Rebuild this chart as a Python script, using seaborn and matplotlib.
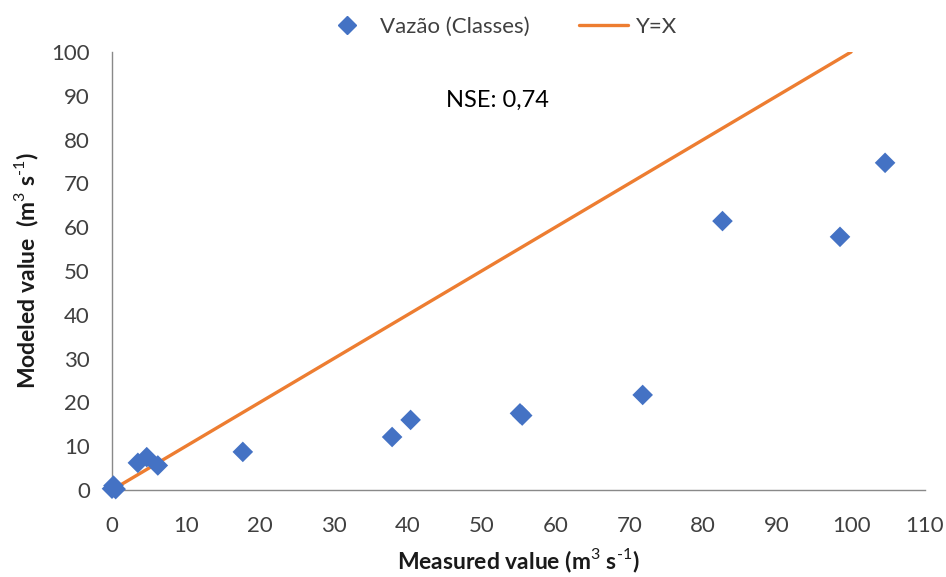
import matplotlib
matplotlib.use("Agg")
import matplotlib.pyplot as plt
import seaborn as sns
import pandas as pd
from matplotlib.lines import Line2D

# Data
measured = [0.0, 0.2, 0.5, 3.5, 4.7, 6.2, 17.7, 37.9, 40.4, 55.2, 55.5, 71.8, 82.6, 98.5, 104.6]
modeled = [0.3, 1.0, 0.2, 6.2, 7.5, 5.6, 8.7, 12.1, 16.0, 17.5, 17.0, 21.7, 61.4, 57.8, 74.7]
line_x = [0, 100]
line_y = [0, 100]
x_ticks = list(range(0, 111, 10))
y_ticks = list(range(0, 101, 10))
nse_text = "NSE: 0,74"
series_names = ["Vazão (Classes)", "Y=X"]

BLUE = "#4472C4"
ORANGE = "#ED7D31"
AXIS_GRAY = "#898989"
TEXT = "#404040"
LABEL = "#1a1a1a"

sns.set_style("white")
plt.rcParams['font.family'] = ['Lato', 'DejaVu Sans']
plt.rcParams['mathtext.fontset'] = 'custom'
plt.rcParams['mathtext.rm'] = 'Lato'
plt.rcParams['mathtext.bf'] = 'Lato:bold'

fig = plt.figure(figsize=(9.46, 5.77), dpi=100)
ax = fig.add_axes([112/946, 1-490/577, (925-112)/946, (490-52)/577])

df_pts = pd.DataFrame({"measured": measured, "modeled": modeled})
df_line = pd.DataFrame({"x": line_x, "y": line_y})

sns.lineplot(data=df_line, x="x", y="y", color=ORANGE, linewidth=2.4, ax=ax, zorder=3)
sns.scatterplot(data=df_pts, x="measured", y="modeled", marker="D", s=110,
                color=BLUE, edgecolor="none", ax=ax, zorder=4, clip_on=False)

ax.set_xlim(0, 110)
ax.set_ylim(0, 100)
ax.set_xticks(x_ticks)
ax.set_yticks(y_ticks)
ax.tick_params(axis='both', length=0, labelsize=16, labelcolor=TEXT)
ax.tick_params(axis='x', pad=18.5)
ax.tick_params(axis='y', pad=16)

for s in ["top", "right"]:
    ax.spines[s].set_visible(False)
for s in ["left", "bottom"]:
    ax.spines[s].set_color(AXIS_GRAY)
    ax.spines[s].set_linewidth(1.0)

ax.set_xlabel(r"Measured value (m$^3$ s$^{\text{-}1}$)", fontsize=16.5, fontweight='bold',
              color=LABEL, labelpad=8)
ax.set_ylabel(r"Modeled value  (m$^3$ s$^{\text{-}1}$)", fontsize=16.5, fontweight='bold',
              color=LABEL, labelpad=7)

ax.text(52.1, 89, nse_text, fontsize=17, color="black", ha="center", va="center")

handles = [
    Line2D([], [], marker="D", color=BLUE, linestyle="none", markersize=9),
    Line2D([], [], color=ORANGE, linewidth=2.4),
]
fig.legend(handles, series_names, loc="center", bbox_to_anchor=(500/946, 1-27/577),
           ncol=2, frameon=False, fontsize=16, handlelength=2.2, columnspacing=2.2,
           handletextpad=0.4, labelcolor=TEXT)

fig.savefig("out.png", dpi=100)
